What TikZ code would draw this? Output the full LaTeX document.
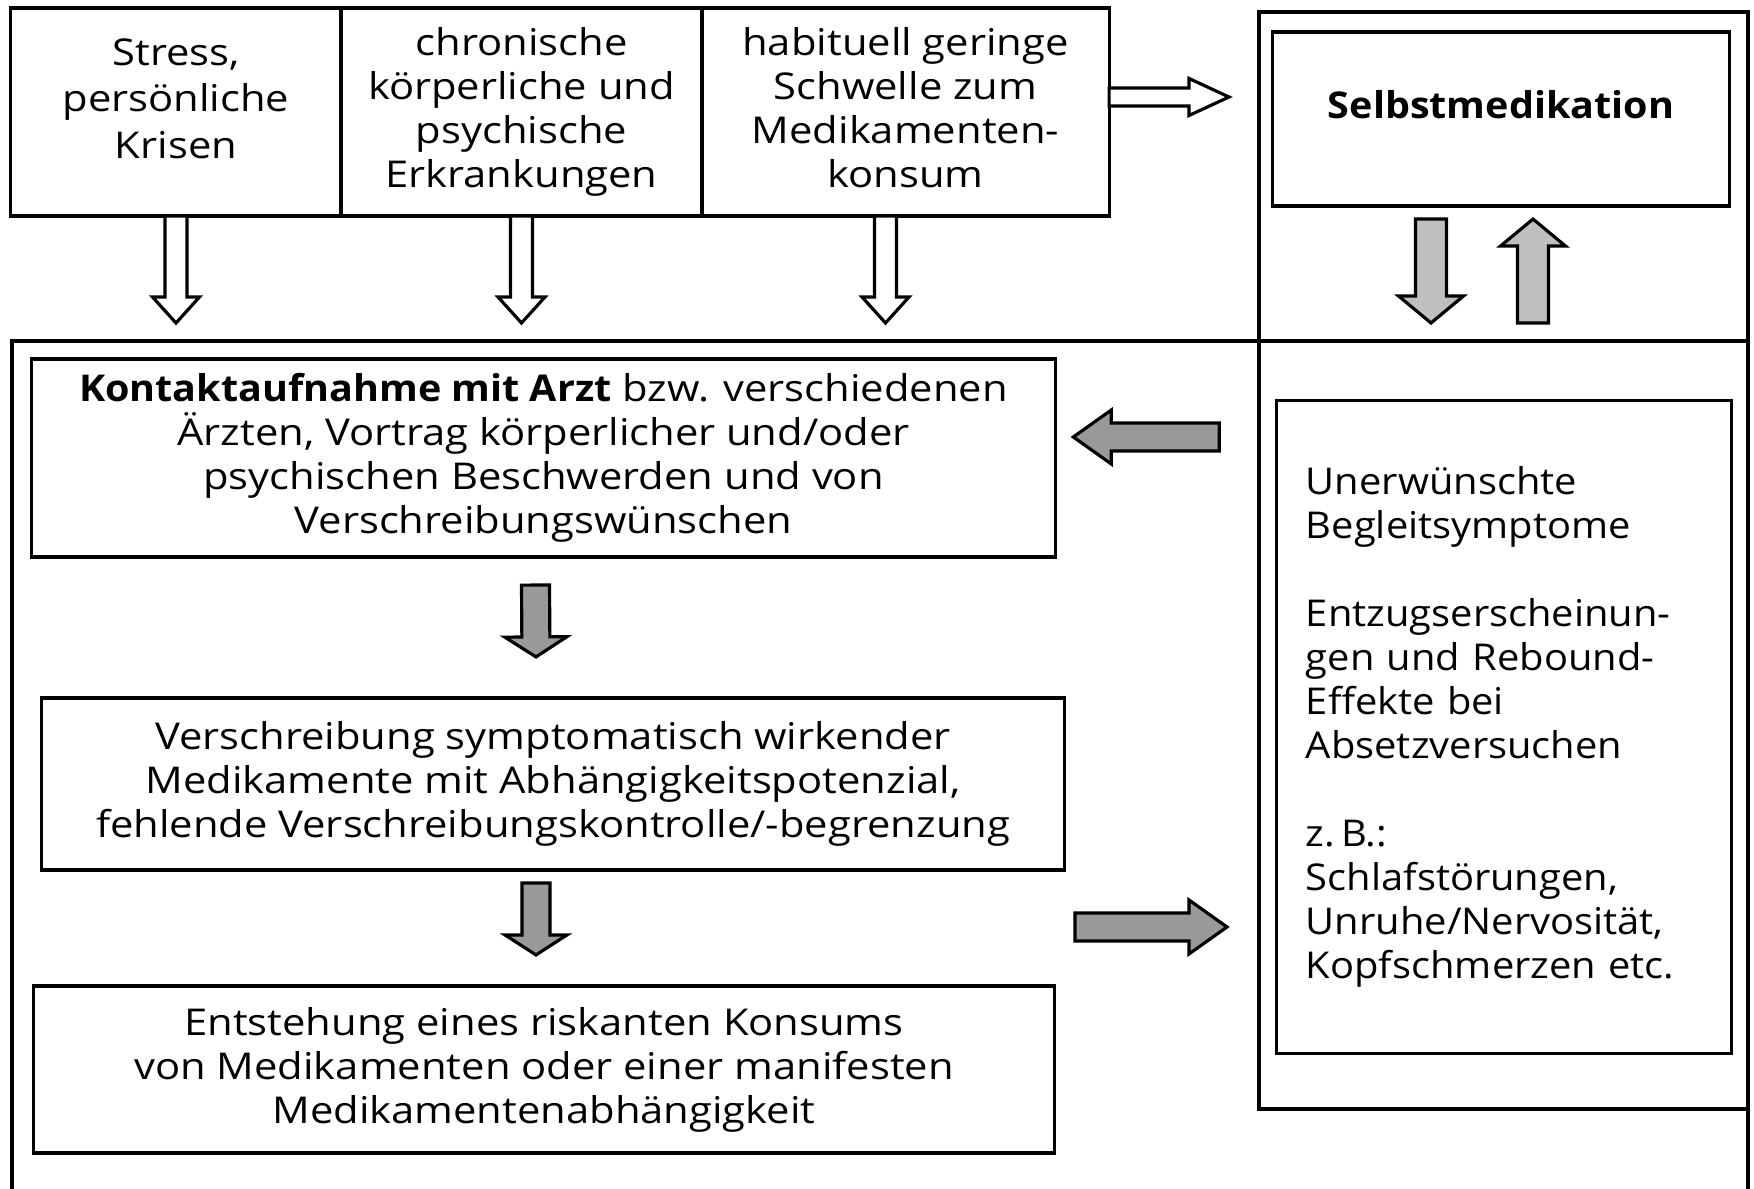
\documentclass[tikz,border=0pt]{standalone}
\usepackage{fontspec}
\setmainfont{Open Sans}
\newfontfamily\boxfont{Open Sans}[FakeStretch=1.13]
\newfontfamily\colfont{Open Sans}[FakeStretch=1.08]
\newfontfamily\headfont{Open Sans}[FakeStretch=1.07]
\usetikzlibrary{calc}
\definecolor{arrowlight}{gray}{0.75}
\definecolor{arrowdark}{gray}{0.6}
\makeatletter
\tikzset{
    box/.style={draw, line width=0.9pt, outer sep=0pt, inner sep=0pt, align=center,
        font=\boxfont\fontsize{10.5}{12.5}\selectfont},
    frame/.style={draw, line width=0.9pt},
    blockarrow/.style={
        draw, line width=0.9pt, line join=miter,
        to path={
            ($(\tikztotarget)!\blockarrow@headlength!(\tikztostart)$) coordinate (baneck)
            ($(\tikztostart)!\blockarrow@shaft/2!90:(\tikztotarget)$)
            -- ($(baneck)!\blockarrow@shaft/2!-90:(\tikztostart)$)
            -- ($(baneck)!\blockarrow@head/2!-90:(\tikztostart)$)
            -- (\tikztotarget)
            -- ($(baneck)!\blockarrow@head/2!90:(\tikztostart)$)
            -- ($(baneck)!\blockarrow@shaft/2!90:(\tikztostart)$)
            -- ($(\tikztostart)!\blockarrow@shaft/2!-90:(\tikztotarget)$)
            -- cycle
        },
    },
    blockarrow shaft/.store in=\blockarrow@shaft,
    blockarrow head/.store in=\blockarrow@head,
    blockarrow head length/.store in=\blockarrow@headlength,
    blockarrow shaft=0.28cm,
    blockarrow head=0.54cm,
    blockarrow head length=0.38cm,
    hollowarrow/.style={blockarrow, fill=white, blockarrow shaft=0.22cm, blockarrow head=0.47cm, blockarrow head length=0.26cm},
    lightarrow/.style={blockarrow, fill=arrowlight, blockarrow shaft=0.31cm, blockarrow head=0.65cm, blockarrow head length=0.27cm},
    darkarrow/.style={blockarrow, fill=arrowdark},
}
\makeatother

\begin{document}
\begin{tikzpicture}[x=0.01cm, y=-0.01cm]
  \useasboundingbox (0,0) rectangle (1754,1189);

  % frames
  \draw[frame] (12,1189) -- (12,341) -- (1748,341) -- (1748,1189);
  \draw[frame] (1259,12) rectangle (1748,1109);

  % top row
  \node[box, minimum width=3.30cm, minimum height=2.08cm, font=\boxfont\fontsize{10.5}{13.2}\selectfont] (stress) at (176,112)
    {Stress,\\persönliche\\Krisen\\[-5.6pt]\mbox{}};
  \node[box, minimum width=3.61cm, minimum height=2.08cm] (chron) at (521.5,112)
    {chronische\\körperliche und\\psychische\\Erkrankungen};
  \node[box, minimum width=4.07cm, minimum height=2.08cm] (habit) at (905.5,112)
    {habituell geringe\\Schwelle zum\\Medikamenten-\\konsum\\[-9.9pt]\mbox{}};

  % right column
  \node[box, minimum width=4.56cm, minimum height=1.74cm, text height=2ex, text depth=2ex,
    font=\headfont\fontsize{10.5}{12.5}\selectfont\bfseries] (selbst) at (1501,119) {Selbstmedikation};
  \node[box, align=left, text width=3.96cm, inner xsep=0.29cm, minimum height=6.52cm,
    font=\colfont\fontsize{10.5}{12.5}\selectfont] (unerw) at (1504,727)
    {Unerwünschte\\Begleitsymptome\\[\baselineskip]
     Entzugserscheinun-\\gen und Rebound-\\Effekte bei\\Absetzversuchen\\[\baselineskip]
     z.\,B.:\\Schlafstörungen,\\Unruhe/Nervosität,\\Kopfschmerzen etc.};

  % main column
  \node[box, minimum width=10.23cm, minimum height=1.98cm] (kontakt) at (543.5,458)
    {{\headfont\bfseries Kontaktaufnahme mit Arzt} bzw. verschiedenen\\Ärzten, Vortrag körperlicher und/oder\\psychischen Beschwerden und von\\Verschreibungswünschen};
  \node[box, minimum width=10.22cm, minimum height=1.72cm] (verschr) at (553,784)
    {Verschreibung symptomatisch wirkender\\Medikamente mit Abhängigkeitspotenzial,\\fehlende Verschreibungskontrolle/-begrenzung};
  \node[box, minimum width=10.21cm, minimum height=1.67cm] (entsteh) at (544,1069.5)
    {Entstehung eines riskanten Konsums\\von Medikamenten oder einer manifesten\\Medikamentenabhängigkeit};

  % arrow ends
  \coordinate (tipline) at (0,323);
  \coordinate (habitout) at ($(habit.south)+(-20,0)$);
  \coordinate (habitright) at ($(habit.east)+(0,-15)$);
  \coordinate (selbsttip) at (1229,97);
  \coordinate (downtop) at ($(selbst.south)+(-70,13)$);
  \coordinate (uptip) at ($(selbst.south)+(32,13)$);
  \coordinate (backtail) at ($(kontakt.east)+(164,-21)$);
  \coordinate (backtip) at ($(kontakt.east)+(18,-21)$);
  \coordinate (step1top) at ($(kontakt.south)+(-8,28)$);
  \coordinate (step1tip) at ($(verschr.north)+(-17,-41)$);
  \coordinate (step2top) at ($(verschr.south)+(-17,13)$);
  \coordinate (step2tip) at ($(entsteh.north)+(-8,-31)$);
  \coordinate (fwdtail) at (1075,927);
  \coordinate (fwdtip) at (1227,927);

  % hollow arrows
  \draw[hollowarrow] (stress.south) to (stress.south |- tipline);
  \draw[hollowarrow] (chron.south) to (chron.south |- tipline);
  \draw[hollowarrow] (habitout) to (habitout |- tipline);
  \draw[hollowarrow, blockarrow shaft=0.18cm, blockarrow head=0.37cm, blockarrow head length=0.40cm] (habitright) to (selbsttip);

  % Selbstmedikation <-> symptoms
  \draw[lightarrow] (downtop) to (downtop |- tipline);
  \draw[lightarrow] (uptip |- tipline) to (uptip);

  % main flow
  \draw[darkarrow] (backtail) to (backtip);
  \draw[darkarrow, blockarrow head=0.62cm, blockarrow head length=0.20cm] (step1top) to (step1tip);
  \draw[darkarrow, blockarrow head=0.62cm, blockarrow head length=0.20cm] (step2top) to (step2tip);
  \draw[darkarrow] (fwdtail) to (fwdtip);
\end{tikzpicture}
\end{document}
